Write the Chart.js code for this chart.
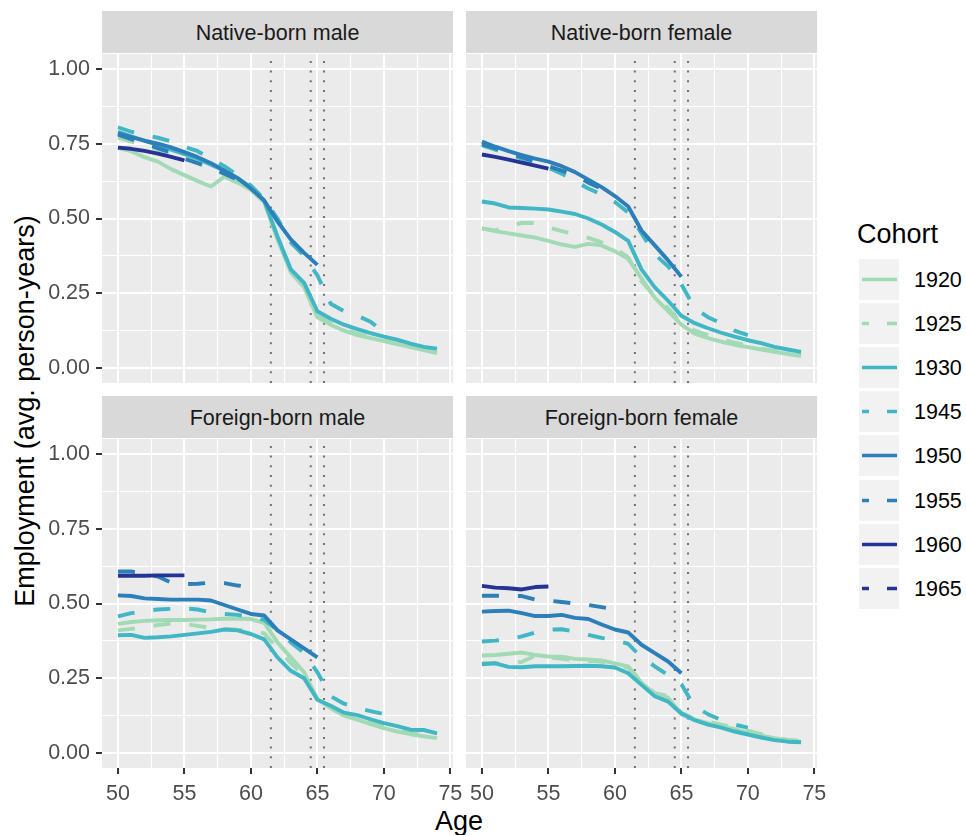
<!DOCTYPE html>
<html>
<head>
<meta charset="utf-8">
<script src="https://cdn.jsdelivr.net/npm/chart.js@4.4.1/dist/chart.umd.min.js"></script>
<style>
  body { margin: 0; background: #fff; width: 966px; height: 835px; position: relative; overflow: hidden;
         font-family: "Liberation Sans", Arial, sans-serif; }
  canvas { position: absolute; }
  .strip { position: absolute; height: 42px; background: #d9d9d9; color: #1a1a1a; font-size: 21.5px;
           text-align: center; line-height: 44px; white-space: nowrap; }
  .title { position: absolute; font-size: 27px; line-height: 27px; color: #000; white-space: nowrap; }
  .key { position: absolute; left: 859px; width: 40px; height: 41px; background: #f2f2f2; }
  .keylab { position: absolute; left: 914px; font-size: 21.5px; line-height: 21.5px; color: #000; }
</style>
</head>
<body>
<div class="title" id="ytitle" style="left:24.5px; top:411px; transform: translate(-50%, -50%) rotate(-90deg);">Employment (avg. person-years)</div>
<div class="title" style="left:459px; top:808px; transform: translateX(-50%);">Age</div>
<div class="title" style="left:857px; top:221px;">Cohort</div>
<script>
// data: employment by age, one row per cohort (first value = age 50)
const ages = [50, 51, 52, 53, 54, 55, 56, 57, 58, 59, 60, 61, 62, 63, 64, 65, 66, 67, 68, 69, 70, 71, 72, 73, 74];
const cohorts = ['1920', '1925', '1930', '1945', '1950', '1955', '1960', '1965'];
const cohortColors = ['#a1dab4', '#a1dab4', '#41b6c4', '#41b6c4', '#2c7fb8', '#2c7fb8', '#253494', '#253494'];
const cohortDashed = [false, true, false, true, false, true, false, true];
const policyAges = [61.5, 64.5, 65.5];
const xTicks = [50, 52.5, 55, 57.5, 60, 62.5, 65, 67.5, 70, 72.5, 75];
const yTicks = [0, 0.125, 0.25, 0.375, 0.5, 0.625, 0.75, 0.875, 1];

const nativeMale = [
  [0.735, 0.725, 0.705, 0.69, 0.665, 0.645, 0.625, 0.607, 0.64, 0.62, 0.595, 0.555, 0.43, 0.32, 0.27, 0.17, 0.145, 0.125, 0.11, 0.10, 0.09, 0.08, 0.07, 0.06, 0.05],
  [0.77, 0.757, 0.745, 0.73, 0.715, 0.70, 0.685, 0.667, 0.648, 0.625, 0.598, 0.555, 0.435, 0.325, 0.275, 0.175, 0.15, 0.13, 0.115, 0.103, 0.092, 0.082, 0.072, 0.062, 0.053],
  [0.79, 0.775, 0.76, 0.745, 0.73, 0.715, 0.70, 0.68, 0.66, 0.635, 0.605, 0.56, 0.44, 0.33, 0.285, 0.19, 0.165, 0.145, 0.13, 0.117, 0.105, 0.095, 0.082, 0.071, 0.065],
  [0.805, 0.79, 0.78, 0.77, 0.758, 0.74, 0.725, 0.70, 0.675, 0.645, 0.61, 0.565, 0.50, 0.42, 0.375, 0.31, 0.215, 0.19, 0.175, 0.155, 0.12],
  [0.785, 0.772, 0.76, 0.75, 0.738, 0.722, 0.705, 0.685, 0.66, 0.635, 0.60, 0.56, 0.49, 0.43, 0.385, 0.345],
  [0.78, 0.765, 0.75, 0.735, 0.72, 0.70, 0.685, 0.67, 0.65, 0.63, 0.60],
  [0.737, 0.733, 0.726, 0.717, 0.706, 0.694],
  [0.74]
];
const nativeFemale = [
  [0.467, 0.458, 0.45, 0.443, 0.436, 0.425, 0.413, 0.405, 0.415, 0.41, 0.39, 0.365, 0.30, 0.235, 0.19, 0.145, 0.115, 0.10, 0.088, 0.078, 0.07, 0.062, 0.054, 0.047, 0.04],
  [0.467, 0.46, 0.475, 0.485, 0.485, 0.47, 0.458, 0.447, 0.435, 0.42, 0.40, 0.37, 0.29, 0.24, 0.20, 0.15, 0.125, 0.11, 0.095, 0.085, 0.075, 0.065, 0.057, 0.05, 0.045],
  [0.557, 0.55, 0.537, 0.535, 0.533, 0.53, 0.523, 0.515, 0.50, 0.48, 0.455, 0.425, 0.33, 0.27, 0.225, 0.175, 0.15, 0.133, 0.118, 0.105, 0.093, 0.083, 0.071, 0.062, 0.054],
  [0.745, 0.73, 0.715, 0.70, 0.685, 0.67, 0.65, 0.625, 0.60, 0.58, 0.555, 0.52, 0.45, 0.38, 0.34, 0.28, 0.20, 0.17, 0.15, 0.125, 0.11],
  [0.757, 0.74, 0.725, 0.712, 0.70, 0.69, 0.675, 0.655, 0.63, 0.605, 0.575, 0.54, 0.46, 0.41, 0.36, 0.305],
  [0.748, 0.735, 0.72, 0.705, 0.69, 0.675, 0.66, 0.645, 0.62, 0.60, 0.575],
  [0.714, 0.706, 0.697, 0.687, 0.677, 0.667],
  [0.715]
];
const foreignMale = [
  [0.432, 0.438, 0.442, 0.444, 0.445, 0.445, 0.446, 0.447, 0.449, 0.45, 0.448, 0.435, 0.37, 0.32, 0.27, 0.18, 0.15, 0.125, 0.112, 0.097, 0.083, 0.072, 0.063, 0.056, 0.05],
  [0.41, 0.415, 0.42, 0.428, 0.433, 0.432, 0.425, 0.418, 0.415, 0.412, 0.41, 0.40, 0.35, 0.30, 0.26, 0.18, 0.15, 0.128, 0.115, 0.10, 0.088, 0.077, 0.067, 0.059, 0.052],
  [0.394, 0.395, 0.385, 0.387, 0.39, 0.395, 0.40, 0.405, 0.413, 0.41, 0.398, 0.38, 0.32, 0.275, 0.25, 0.178, 0.158, 0.135, 0.127, 0.113, 0.10, 0.09, 0.078, 0.077, 0.066],
  [0.457, 0.468, 0.475, 0.48, 0.482, 0.484, 0.48, 0.47, 0.465, 0.462, 0.455, 0.445, 0.41, 0.37, 0.335, 0.27, 0.19, 0.165, 0.15, 0.14, 0.13],
  [0.527, 0.525, 0.517, 0.515, 0.513, 0.513, 0.513, 0.51, 0.495, 0.48, 0.465, 0.46, 0.41, 0.38, 0.35, 0.32],
  [0.607, 0.607, 0.60, 0.59, 0.57, 0.565, 0.566, 0.57, 0.568, 0.56, 0.555],
  [0.593, 0.593, 0.593, 0.594, 0.594, 0.594],
  [0.60]
];
const foreignFemale = [
  [0.326, 0.328, 0.332, 0.336, 0.328, 0.323, 0.322, 0.315, 0.313, 0.31, 0.30, 0.29, 0.235, 0.197, 0.185, 0.13, 0.112, 0.10, 0.09, 0.08, 0.068, 0.058, 0.05, 0.042, 0.037],
  [0.30, 0.30, 0.30, 0.305, 0.325, 0.32, 0.315, 0.31, 0.308, 0.305, 0.298, 0.285, 0.24, 0.20, 0.19, 0.135, 0.115, 0.105, 0.095, 0.085, 0.075, 0.063, 0.052, 0.045, 0.04],
  [0.297, 0.30, 0.288, 0.287, 0.29, 0.29, 0.29, 0.291, 0.292, 0.29, 0.286, 0.267, 0.228, 0.19, 0.172, 0.132, 0.11, 0.095, 0.085, 0.072, 0.062, 0.052, 0.043, 0.038, 0.036],
  [0.373, 0.376, 0.38, 0.39, 0.403, 0.413, 0.414, 0.406, 0.395, 0.385, 0.378, 0.365, 0.32, 0.29, 0.26, 0.23, 0.155, 0.13, 0.11, 0.095, 0.085],
  [0.473, 0.475, 0.476, 0.468, 0.458, 0.458, 0.462, 0.452, 0.448, 0.43, 0.413, 0.403, 0.362, 0.334, 0.306, 0.267],
  [0.526, 0.526, 0.526, 0.525, 0.513, 0.51, 0.505, 0.50, 0.495, 0.488, 0.48],
  [0.559, 0.553, 0.551, 0.547, 0.555, 0.557],
  [0.555]
];

const X_MIN = 48.8, X_MAX = 75.2, Y_MIN = -0.05, Y_MAX = 1.05;
const PANEL_W = 351, PANEL_H = 329;
const PAD_T = 25;
const FONT = '"Liberation Sans", Arial, sans-serif';

const panels = [
  { title: 'Native-born male', data: nativeMale, left: 102, top: 54, showY: true, showX: false },
  { title: 'Native-born female', data: nativeFemale, left: 466, top: 54, showY: false, showX: false },
  { title: 'Foreign-born male', data: foreignMale, left: 102, top: 439, showY: true, showX: true },
  { title: 'Foreign-born female', data: foreignFemale, left: 466, top: 439, showY: false, showX: true },
];

const isMajorX = (v) => Math.abs(v % 5) < 1e-6;
const isMajorY = (v) => Math.abs(v * 4 - Math.round(v * 4)) < 1e-6;

const panelBg = {
  id: 'panelBg',
  beforeDraw(chart) {
    const a = chart.chartArea;
    const ctx = chart.ctx;
    ctx.save();
    ctx.fillStyle = '#ebebeb';
    ctx.fillRect(a.left, a.top, a.right - a.left, a.bottom - a.top);
    ctx.restore();
  },
};

function newPanel(p) {
  const padL = p.showY ? 0 : 15;
  const axisW = p.showY ? 102 : 0;
  const axisH = p.showX ? 50 : 0;
  const padB = p.showX ? 0 : 25;
  const w = padL + axisW + PANEL_W + 20;
  const h = PAD_T + PANEL_H + axisH + padB;

  const strip = document.createElement('div');
  strip.className = 'strip';
  strip.style.left = p.left + 'px';
  strip.style.width = PANEL_W + 'px';
  strip.style.top = (p.top - 43) + 'px';
  strip.textContent = p.title;
  document.body.appendChild(strip);

  const cv = document.createElement('canvas');
  cv.width = w;
  cv.height = h;
  cv.style.width = w + 'px';
  cv.style.height = h + 'px';
  cv.style.left = (p.left - padL - axisW) + 'px';
  cv.style.top = (p.top - PAD_T) + 'px';
  document.body.appendChild(cv);

  const datasets = [];
  cohorts.forEach((c, i) => {
    datasets.push({
      label: c,
      data: p.data[i].map((v, j) => ({ x: ages[j], y: v })),
      borderColor: cohortColors[i],
      borderDash: cohortDashed[i] ? [17, 19] : [],
      borderWidth: 3.9,
      borderJoinStyle: 'round',
      pointRadius: 0,
      tension: 0,
      order: cohorts.length - i,
    });
  });
  policyAges.forEach((a) => {
    datasets.push({
      label: 'age ' + a,
      data: [{ x: a, y: Y_MIN }, { x: a, y: Y_MAX }],
      borderColor: '#707070',
      borderWidth: 2,
      borderDash: [2, 7.7],
      pointRadius: 0,
      order: 20,
    });
  });

  return new Chart(cv, {
    type: 'line',
    data: { datasets: datasets },
    options: {
      responsive: false,
      animation: false,
      events: [],
      layout: { padding: { top: PAD_T, right: 20, bottom: padB, left: padL } },
      plugins: { legend: { display: false }, tooltip: { enabled: false } },
      scales: {
        x: {
          type: 'linear',
          min: X_MIN,
          max: X_MAX,
          afterBuildTicks: (ax) => { ax.ticks = xTicks.map((v) => ({ value: v })); },
          afterFit: (ax) => { ax.height = axisH; },
          border: { display: false },
          grid: {
            color: '#ffffff',
            lineWidth: (c) => (c.tick && isMajorX(c.tick.value) ? 2 : 1),
            drawTicks: p.showX,
            tickLength: 6,
            tickWidth: 2,
            tickColor: (c) => (c.tick && isMajorX(c.tick.value) ? '#333333' : 'rgba(0,0,0,0)'),
          },
          ticks: {
            display: p.showX,
            autoSkip: false,
            maxRotation: 0,
            padding: 7,
            color: '#4d4d4d',
            font: { family: FONT, size: 21.5 },
            callback: (v) => (isMajorX(v) ? String(v) : ''),
          },
        },
        y: {
          type: 'linear',
          min: Y_MIN,
          max: Y_MAX,
          afterBuildTicks: (ax) => { ax.ticks = yTicks.map((v) => ({ value: v })); },
          afterFit: (ax) => { ax.width = axisW; },
          border: { display: false },
          grid: {
            color: '#ffffff',
            lineWidth: (c) => (c.tick && isMajorY(c.tick.value) ? 2 : 1),
            drawTicks: p.showY,
            tickLength: 6,
            tickWidth: 2,
            tickColor: (c) => (c.tick && isMajorY(c.tick.value) ? '#333333' : 'rgba(0,0,0,0)'),
          },
          ticks: {
            display: p.showY,
            autoSkip: false,
            padding: 6,
            color: '#4d4d4d',
            font: { family: FONT, size: 21.5 },
            callback: (v) => (isMajorY(v) ? v.toFixed(2) : ''),
          },
        },
      },
    },
    plugins: [panelBg],
  });
}

function buildLegend() {
  cohorts.forEach((c, i) => {
    const top = 259 + i * 44.1;
    const key = document.createElement('div');
    key.className = 'key';
    key.style.top = top + 'px';
    const dash = cohortDashed[i] ? ' stroke-dasharray="18 18" stroke-dashoffset="11"' : '';
    key.innerHTML = '<svg width="40" height="41"><line x1="3" x2="38" y1="20.5" y2="20.5" stroke="' +
      cohortColors[i] + '" stroke-width="3.5"' + dash + '/></svg>';
    document.body.appendChild(key);
    const lab = document.createElement('div');
    lab.className = 'keylab';
    lab.style.top = (top + 21.5 - 10.5) + 'px';
    lab.textContent = c;
    document.body.appendChild(lab);
  });
}

panels.forEach(newPanel);
buildLegend();
</script>
</body>
</html>
